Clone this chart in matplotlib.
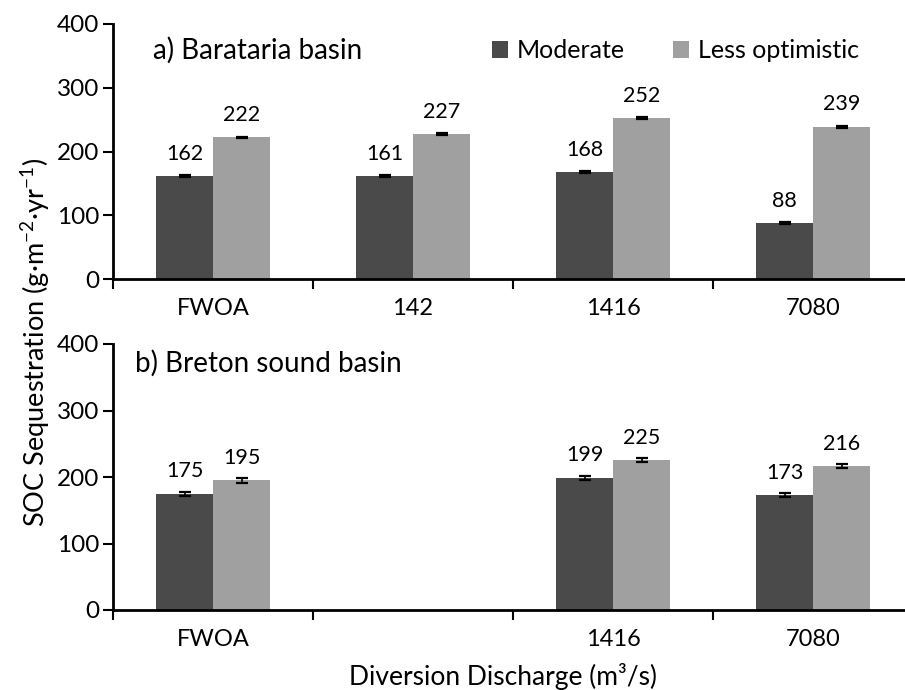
import numpy as np
import matplotlib
matplotlib.use("Agg")
import matplotlib.pyplot as plt

plt.rcParams['font.family'] = ['Lato', 'DejaVu Sans']
plt.rcParams['mathtext.fontset'] = 'custom'
plt.rcParams['mathtext.rm'] = 'Lato'
plt.rcParams['mathtext.it'] = 'Lato:italic'

categories_a = ["FWOA", "142", "1416", "7080"]
moderate_a = [162, 161, 168, 88]
less_a = [222, 227, 252, 239]
err_mod_a = [1.5, 1.5, 1.5, 1.0]
err_less_a = [1.5, 1.5, 1.5, 1.5]

categories_b = ["FWOA", "", "1416", "7080"]
moderate_b = [175, np.nan, 199, 173]
less_b = [195, np.nan, 225, 216]
err_mod_b = [3, np.nan, 3, 3]
err_less_b = [4, np.nan, 3, 3]

series_names = ["Moderate", "Less optimistic"]
c_dark = "#4a4a4a"
c_light = "#a0a0a0"

W, H = 905, 690
fig = plt.figure(figsize=(W / 100, H / 100), dpi=100)

def ax_rect(x0, x1, ytop, ybot):
    return [x0 / W, 1 - ybot / H, (x1 - x0) / W, (ybot - ytop) / H]

ax1 = fig.add_axes(ax_rect(113, 913, 24, 279))
ax2 = fig.add_axes(ax_rect(113, 913, 344, 610))

bw = 0.285

def draw(ax, cats, mod, less, em, el, title, title_xy, legend=False):
    x = np.arange(len(cats))
    ax.bar(x - bw / 2, mod, bw, color=c_dark, label=series_names[0])
    ax.bar(x + bw / 2, less, bw, color=c_light, label=series_names[1])
    ax.errorbar(x - bw / 2, mod, yerr=em, fmt='none', ecolor='black',
                elinewidth=1.2, capsize=4, capthick=1.6)
    ax.errorbar(x + bw / 2, less, yerr=el, fmt='none', ecolor='black',
                elinewidth=1.2, capsize=4, capthick=1.6)
    for xs, vals in ((x - bw / 2, mod), (x + bw / 2, less)):
        for xi, v in zip(xs, vals):
            if not np.isnan(v):
                ax.annotate(f"{v:.0f}", (xi, v), xytext=(0, 16), textcoords='offset points',
                            ha='center', va='center', fontsize=15.5)
    ax.set_xlim(-0.5, len(cats) - 0.5)
    ax.set_ylim(0, 400)
    ax.set_yticks([0, 100, 200, 300, 400])
    ax.tick_params(axis='y', labelsize=17.5, width=1.5, length=7, direction='out', pad=3)
    ax.set_xticks(x)
    ax.set_xticklabels(cats, fontsize=17)
    ax.tick_params(axis='x', length=0, pad=14)
    ax.set_xticks(np.arange(len(cats) + 1) - 0.5, minor=True)
    ax.tick_params(axis='x', which='minor', length=7, width=1.5, direction='out')
    for s in ['top', 'right']:
        ax.spines[s].set_visible(False)
    for s in ['left', 'bottom']:
        ax.spines[s].set_linewidth(2)
    ax.text(title_xy[0], title_xy[1], title, transform=ax.transAxes, fontsize=20,
            ha='left', va='center')
    if legend:
        ax.legend(loc='upper left', bbox_to_anchor=(0.455, 1.0), ncol=2, frameon=False,
                  fontsize=18, handlelength=0.65, handleheight=0.65, handletextpad=0.35,
                  columnspacing=1.9, borderaxespad=0.2)

draw(ax1, categories_a, moderate_a, less_a, err_mod_a, err_less_a,
     "a) Barataria basin", (0.05, 0.898), legend=True)
draw(ax2, categories_b, moderate_b, less_b, err_mod_b, err_less_b,
     "b) Breton sound basin", (0.0275, 0.929))

fig.text(36 / W, 1 - 342 / H, r"SOC Sequestration (g·m$^{-2}$·yr$^{-1}$)",
         rotation=90, ha='center', va='center', fontsize=19.5)
fig.text(503 / W, 1 - 676 / H, "Diversion Discharge (m³/s)",
         ha='center', va='center', fontsize=19)

fig.savefig("out.png", dpi=100)
